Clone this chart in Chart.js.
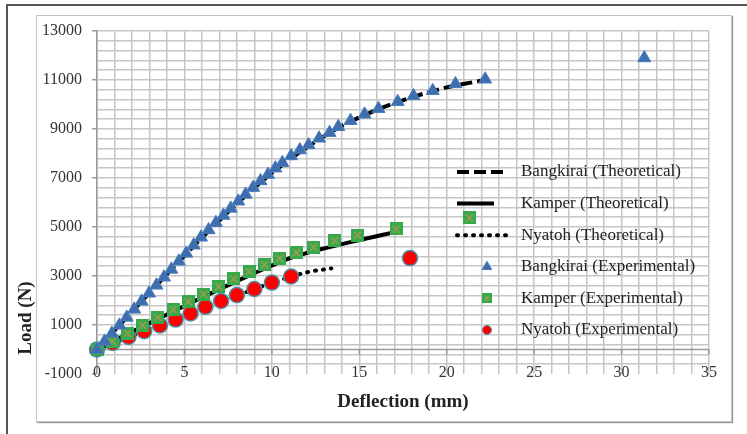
<!DOCTYPE html>
<html>
<head>
<meta charset="utf-8">
<script src="https://cdn.jsdelivr.net/npm/chart.js@4.4.0/dist/chart.umd.min.js"></script>
<style>
  body { margin: 0; background: #fff; overflow: hidden; }
  #outer { position: absolute; left: 6px; top: 4px; width: 760px; height: 440px;
           border-left: 2px solid #555; border-top: 2px solid #555; }
  #inner { position: absolute; left: 36px; top: 15px; width: 694px; height: 405px;
           border: 1px solid #c4c4c4; box-shadow: 1px 1px 1px #9a9a9a; }
  #chart { position: absolute; left: 0; top: 0; }
</style>
</head>
<body>
<div id="outer"></div>
<div id="inner"></div>
<canvas id="chart" width="747" height="434"></canvas>
<script>
// ---- data (deflection in mm, load in N) ----
const bangkiraiExpX = [0, 0.43, 0.85, 1.28, 1.7, 2.13, 2.55, 2.98, 3.4, 3.83, 4.25, 4.68, 5.1, 5.53, 5.95,
  6.38, 6.8, 7.23, 7.65, 8.08, 8.5, 8.93, 9.35, 9.78, 10.2, 10.6, 11.1, 11.6, 12.1, 12.7, 13.3, 13.8,
  14.5, 15.3, 16.1, 17.2, 18.1, 19.2, 20.5, 22.2, 31.3];
const bangkiraiExpY = [0, 330, 655, 985, 1310, 1640, 1965, 2295, 2620, 2950, 3270, 3600, 3925, 4255, 4580,
  4880, 5175, 5470, 5760, 6050, 6330, 6610, 6880, 7140, 7400, 7620, 7900, 8140, 8350, 8620, 8850, 9090,
  9340, 9600, 9830, 10110, 10350, 10560, 10840, 11030, 11900];

const kamperExpX = [0, 0.87, 1.74, 2.61, 3.48, 4.35, 5.22, 6.09, 6.96, 7.83, 8.7, 9.57, 10.44, 11.4, 12.4, 13.6, 14.9, 17.1, 21.3];
const kamperExpY = [0, 330, 660, 990, 1310, 1630, 1950, 2260, 2570, 2880, 3180, 3460, 3720, 3950, 4170, 4440, 4670, 4920, 5370];

const nyatohExpX = [0, 0.9, 1.8, 2.7, 3.6, 4.5, 5.35, 6.2, 7.1, 8.0, 9.0, 10.0, 11.1, 17.9];
const nyatohExpY = [0, 270, 510, 750, 980, 1220, 1470, 1740, 1980, 2220, 2470, 2730, 2980, 3730];

const bangkiraiTheoX = [0, 2, 4, 6, 8, 10, 12, 14, 16, 18, 20, 22.2];
const bangkiraiTheoY = [0, 1540, 3080, 4560, 5950, 7200, 8250, 9120, 9780, 10290, 10700, 11000];

const kamperTheoX = [0, 2, 4, 6, 8, 10, 11, 12.8, 14.9, 16.9];
const kamperTheoY = [0, 720, 1430, 2120, 2790, 3430, 3720, 4090, 4450, 4770];

const nyatohTheoX = [0, 2, 4, 6, 8, 10, 12, 13.4];
const nyatohTheoY = [0, 560, 1110, 1660, 2200, 2720, 3150, 3310];

const xTickLabels = [0, 5, 10, 15, 20, 25, 30, 35];
const yTickLabels = [-1000, 1000, 3000, 5000, 7000, 9000, 11000, 13000];
const xGridStep = 1;
const yGridStep = 400;

const pts = (xs, ys) => xs.map((x, i) => ({ x: x, y: ys[i] }));

// green square marker with an olive cross
function squareMarker(size) {
  const c = document.createElement('canvas');
  c.width = c.height = size;
  const g = c.getContext('2d');
  g.fillStyle = '#36a94b';
  g.fillRect(0, 0, size, size);
  g.strokeStyle = '#a19c52';
  g.lineWidth = 1.6;
  g.beginPath();
  g.moveTo(3, 3); g.lineTo(size - 3, size - 3);
  g.moveTo(size - 3, 3); g.lineTo(3, size - 3);
  g.stroke();
  return c;
}
const squareBig = squareMarker(13);
const squareSmall = squareMarker(10);

const gridTicks = (min, max, step) => {
  const out = [];
  for (let v = min; v <= max + 1e-9; v += step) out.push({ value: Math.round(v * 1000) / 1000 });
  return out;
};

const serif = 'Liberation Serif';

const extrasPlugin = {
  id: 'extras',
  beforeDatasetsDraw(chart) {
    // horizontal axis crossing at load = 0
    const { ctx, chartArea, scales } = chart;
    const y0 = scales.y.getPixelForValue(0);
    ctx.save();
    ctx.strokeStyle = '#9a9a9a';
    ctx.lineWidth = 1.5;
    ctx.beginPath();
    ctx.moveTo(chartArea.left, y0);
    ctx.lineTo(chartArea.right, y0);
    xTickLabels.forEach(v => {
      const x = scales.x.getPixelForValue(v);
      ctx.moveTo(x, y0);
      ctx.lineTo(x, y0 + 5);
    });
    ctx.stroke();
    ctx.restore();
  },
  afterDraw(chart) {
    const { ctx, chartArea } = chart;
    ctx.save();
    // axis titles
    ctx.fillStyle = '#222';
    ctx.font = 'bold 19px ' + serif;
    ctx.textAlign = 'center';
    ctx.textBaseline = 'middle';
    ctx.fillText('Deflection (mm)', (chartArea.left + chartArea.right) / 2, 402);
    ctx.translate(26, 318);
    ctx.rotate(-Math.PI / 2);
    ctx.fillText('Load (N)', 0, 0);
    ctx.restore();

    // legend
    const order = [3, 4, 5, 0, 1, 2];
    const sx = chartArea.right - 252, tx = chartArea.right - 188;
    let y = 172;
    ctx.save();
    ctx.font = '17px ' + serif;
    ctx.textBaseline = 'middle';
    order.forEach(i => {
      const ds = chart.data.datasets[i];
      if (ds.showLine) {
        ctx.save();
        ctx.strokeStyle = ds.borderColor;
        ctx.lineWidth = ds.borderWidth;
        ctx.lineCap = ds.borderCapStyle || 'butt';
        ctx.setLineDash(ds.borderDash || []);
        ctx.beginPath();
        ctx.moveTo(sx, y);
        ctx.lineTo(sx + (ds.legendLen || 50), y);
        ctx.stroke();
        ctx.restore();
      } else if (ds.pointStyle === squareBig) {
        ctx.drawImage(squareSmall, sx + 30 - 5, y - 5);
      } else {
        ctx.save();
        ctx.fillStyle = ds.backgroundColor;
        ctx.strokeStyle = ds.borderColor;
        Chart.helpers.drawPoint(ctx, { pointStyle: ds.pointStyle, radius: ds.pointStyle === 'circle' ? 4.5 : 5.5,
          rotation: 0, borderWidth: ds.borderWidth }, sx + 30, y);
        ctx.restore();
      }
      ctx.fillStyle = '#222';
      ctx.fillText(ds.label, tx, y);
      y += 31.6;
    });
    ctx.restore();
  }
};

new Chart(document.getElementById('chart'), {
  type: 'scatter',
  data: {
    datasets: [
      { label: 'Bangkirai (Experimental)', data: pts(bangkiraiExpX, bangkiraiExpY), showLine: false,
        pointStyle: 'triangle', pointRadius: 7.5, backgroundColor: '#3d6fb0', borderColor: '#4a7cbb',
        borderWidth: 1, order: 1, clip: false },
      { label: 'Kamper (Experimental)', data: pts(kamperExpX, kamperExpY), showLine: false,
        pointStyle: squareBig, pointRadius: 6, backgroundColor: '#36a94b', borderColor: '#36a94b',
        borderWidth: 0, order: 1, clip: false },
      { label: 'Nyatoh (Experimental)', data: pts(nyatohExpX, nyatohExpY), showLine: false,
        pointStyle: 'circle', pointRadius: 7.5, backgroundColor: '#ff0000', borderColor: '#4a8fa6',
        borderWidth: 1.5, order: 1, clip: false },
      { label: 'Bangkirai (Theoretical)', data: pts(bangkiraiTheoX, bangkiraiTheoY), showLine: true,
        pointRadius: 0, borderColor: '#000', borderWidth: 4, borderDash: [12, 5],
        cubicInterpolationMode: 'monotone', order: 2, legendLen: 50 },
      { label: 'Kamper (Theoretical)', data: pts(kamperTheoX, kamperTheoY), showLine: true,
        pointRadius: 0, borderColor: '#000', borderWidth: 4,
        cubicInterpolationMode: 'monotone', order: 2, legendLen: 37 },
      { label: 'Nyatoh (Theoretical)', data: pts(nyatohTheoX, nyatohTheoY), showLine: true,
        pointRadius: 0, borderColor: '#000', borderWidth: 4, borderDash: [1, 7], borderCapStyle: 'round',
        cubicInterpolationMode: 'monotone', order: 2, legendLen: 50 }
    ]
  },
  options: {
    responsive: false,
    animation: false,
    devicePixelRatio: 1,
    events: [],
    layout: { padding: { left: 36, top: 31, right: 38, bottom: 0 } },
    plugins: { legend: { display: false }, tooltip: { enabled: false } },
    scales: {
      x: {
        type: 'linear', min: 0, max: 35,
        afterBuildTicks: s => { s.ticks = gridTicks(0, 35, xGridStep); },
        afterFit: s => { s.height = 60; },
        border: { display: false },
        grid: { color: '#c6c6c6', lineWidth: 1.5, drawTicks: false },
        ticks: {
          z: 1, mirror: true, autoSkip: false, maxRotation: 0, padding: -8, color: '#333',
          font: { family: serif, size: 16 },
          callback: v => xTickLabels.includes(v) ? String(v) : ''
        }
      },
      y: {
        type: 'linear', min: -1000, max: 13000,
        afterBuildTicks: s => { s.ticks = gridTicks(-1000, 13000, yGridStep); },
        afterFit: s => { s.width = 61; },
        border: { display: true, color: '#9a9a9a', width: 1.5 },
        grid: {
          color: c => (c.tick && c.tick.value === -1000) ? 'rgba(0,0,0,0)' : '#c6c6c6',
          lineWidth: 1.5, tickLength: 5,
          tickColor: c => (c.tick && yTickLabels.includes(c.tick.value)) ? '#9a9a9a' : 'rgba(0,0,0,0)'
        },
        ticks: {
          autoSkip: false, padding: 10, color: '#333',
          font: { family: serif, size: 16 },
          callback: v => yTickLabels.includes(v) ? String(v) : ''
        }
      }
    }
  },
  plugins: [extrasPlugin]
});
</script>
</body>
</html>
